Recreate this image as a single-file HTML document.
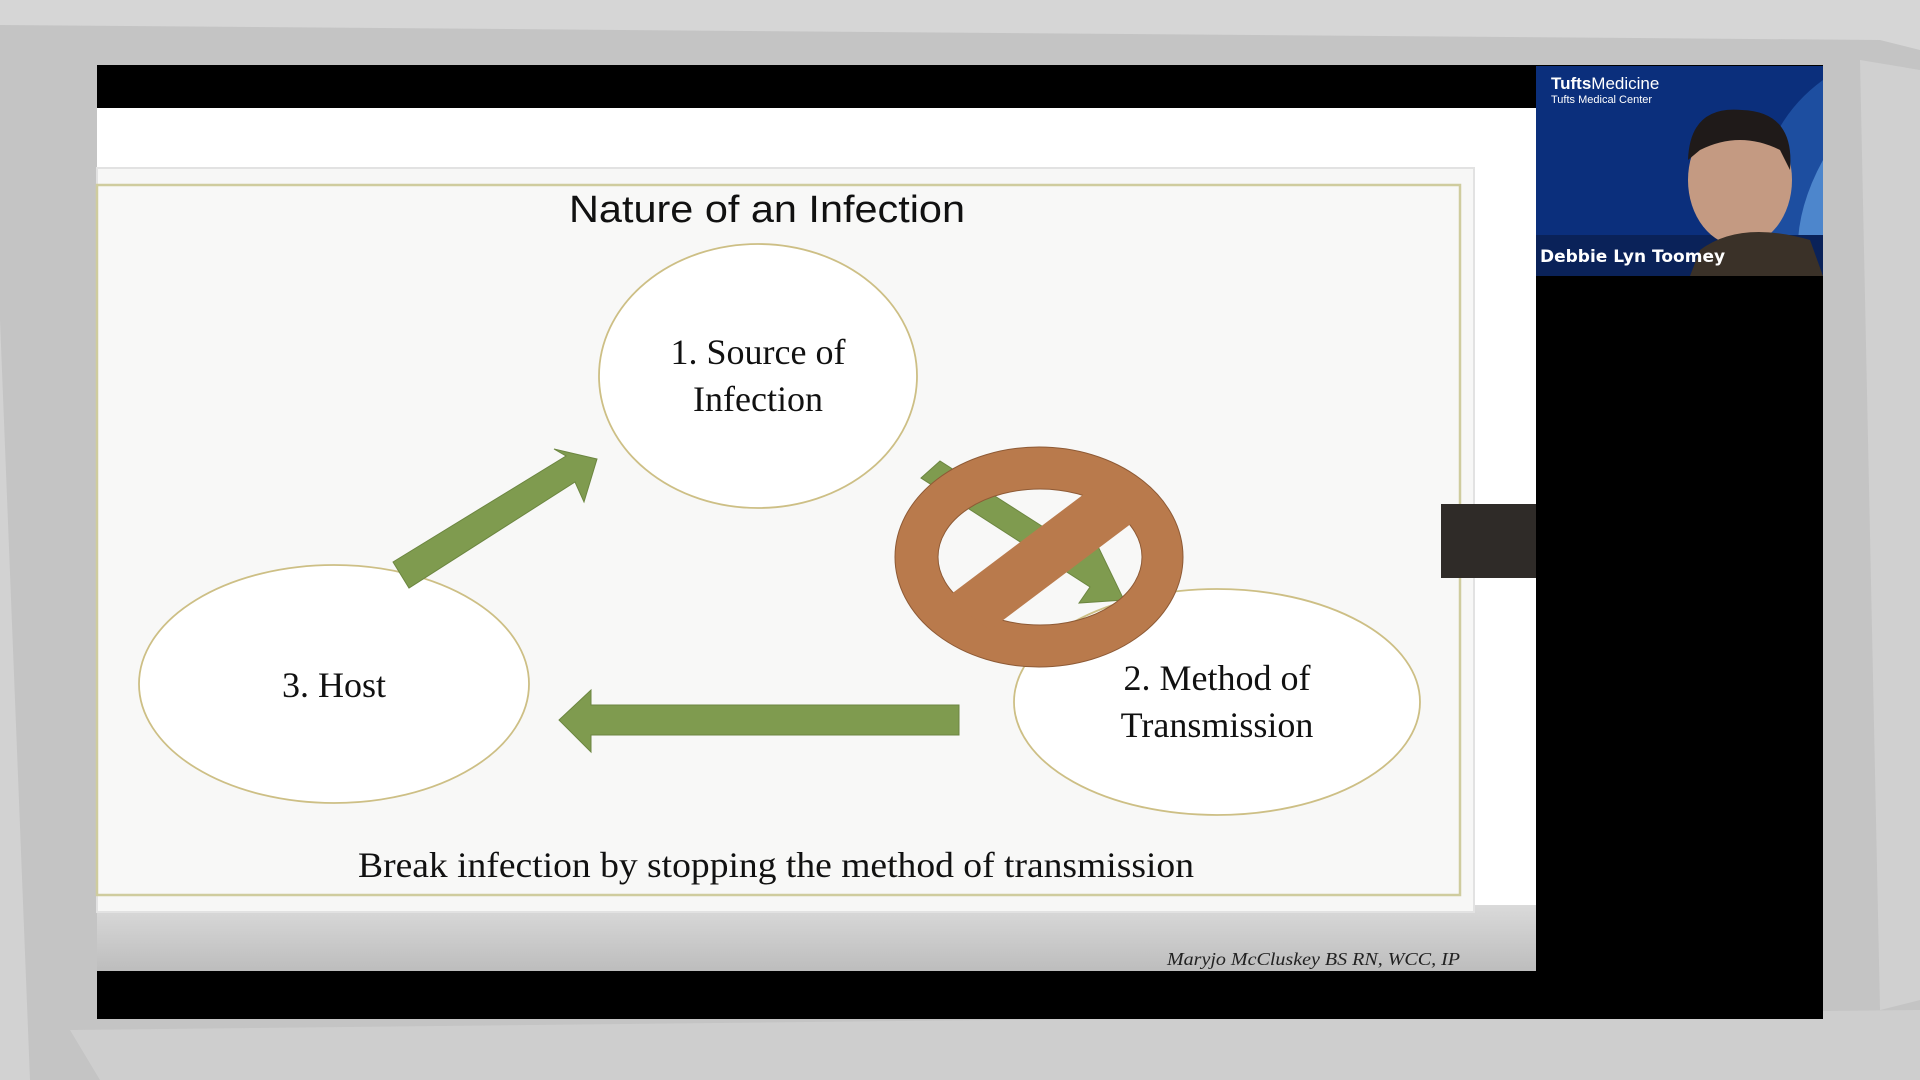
<!DOCTYPE html>
<html><head><meta charset="utf-8"><style>
html,body{margin:0;padding:0;width:1920px;height:1080px;overflow:hidden;background:#c4c4c4}
svg{display:block}
</style></head><body>
<svg width="1920" height="1080" viewBox="0 0 1920 1080" xmlns="http://www.w3.org/2000/svg">
<rect width="1920" height="1080" fill="#c4c4c4"/>
<path d="M0 0 L1920 0 L1920 50 L1880 40 L0 25 Z" fill="#d6d6d6"/>
<path d="M0 320 L30 1080 L0 1080 Z" fill="#d2d2d2"/>
<path d="M1860 60 L1920 70 L1920 1000 L1880 1010 Z" fill="#d0d0d0"/>
<path d="M70 1030 L1920 1010 L1920 1080 L100 1080 Z" fill="#cecece"/>
<rect x="97" y="65" width="1726" height="954" fill="#000"/>
<rect x="97" y="108" width="1439" height="863" fill="#fff"/>
<defs><linearGradient id="g" x1="0" y1="0" x2="0" y2="1"><stop offset="0" stop-color="#dadada"/><stop offset="1" stop-color="#bdbdbd"/></linearGradient></defs>
<rect x="97" y="905" width="1439" height="66" fill="url(#g)"/>
<rect x="97" y="168" width="1377" height="744" fill="#f7f7f6" stroke="#e2e2e2" stroke-width="2"/>
<rect x="97" y="185" width="1363" height="710" fill="#f8f8f7" stroke="#cfcc9e" stroke-width="2.5"/>
<text x="569" y="222" textLength="396" lengthAdjust="spacingAndGlyphs" font-family="Liberation Sans, sans-serif" font-size="38" fill="#111">Nature of an Infection</text>
<ellipse cx="758" cy="376" rx="159" ry="132" fill="#fff" stroke="#cdbf85" stroke-width="1.8"/>
<ellipse cx="334" cy="684" rx="195" ry="119" fill="#fff" stroke="#cdbf85" stroke-width="1.8"/>
<ellipse cx="1217" cy="702" rx="203" ry="113" fill="#fff" stroke="#cdbf85" stroke-width="1.8"/>
<g font-family="Liberation Serif, serif" font-size="36" fill="#111" text-anchor="middle">
<text x="758" y="364">1. Source of</text>
<text x="758" y="411">Infection</text>
<text x="334" y="697">3. Host</text>
<text x="1217" y="690">2. Method of</text>
<text x="1217" y="737">Transmission</text>
</g>
<polygon points="393,562 409,588 575,482 584,502 597,459 554,449 566,456" fill="#7f9b4f" stroke="#6c8640" stroke-width="1"/>
<polygon points="959,705 959,735 591,735 591,752 559,720 591,690 591,705" fill="#7f9b4f" stroke="#6c8640" stroke-width="1"/>
<polygon points="921,478 940,461 1084,553 1093,536 1124,600 1079,603 1090,587" fill="#7f9b4f" stroke="#6c8640" stroke-width="1"/>
<path fill-rule="evenodd" fill="#b97a4c" stroke="#8e5a35" stroke-width="1" d="M895,557 a144,110 0 1,0 288,0 a144,110 0 1,0 -288,0 Z M938,557 a102,68 0 1,0 204,0 a102,68 0 1,0 -204,0 Z"/>
<polygon points="1092,488 1136,520 990,630 946,598" fill="#b97a4c"/>
<text x="358" y="877" textLength="836" lengthAdjust="spacingAndGlyphs" font-family="Liberation Serif, serif" font-size="36" fill="#111">Break infection by stopping the method of  transmission</text>
<text x="1167" y="965" textLength="293" lengthAdjust="spacingAndGlyphs" font-family="Liberation Serif, serif" font-style="italic" font-size="18" fill="#222">Maryjo McCluskey BS RN, WCC, IP</text>
<rect x="1441" y="504" width="95" height="74" fill="#2f2b28"/>
<rect x="1536" y="66" width="287" height="210" fill="#0b2f7c"/>
<path d="M1823 80 Q1740 140 1760 276 L1823 276 Z" fill="#1d4ea0"/>
<path d="M1823 160 Q1790 220 1800 276 L1823 276 Z" fill="#4d86cc"/>
<rect x="1536" y="235" width="287" height="41" fill="#0a2259"/>
<ellipse cx="1740" cy="180" rx="52" ry="66" fill="#c49a82"/>
<path d="M1688 160 Q1690 105 1742 110 Q1795 112 1790 170 L1780 150 Q1740 130 1700 150 Z" fill="#1f1a19"/>
<path d="M1700 250 Q1740 220 1810 240 L1823 276 L1690 276 Z" fill="#3a3128"/>
<text x="1551" y="89" font-family="Liberation Sans, sans-serif" font-size="17" font-weight="bold" fill="#fff">Tufts<tspan font-weight="normal">Medicine</tspan></text>
<text x="1551" y="103" font-family="Liberation Sans, sans-serif" font-size="11" fill="#fff">Tufts Medical Center</text>
<text x="1540" y="262" font-family="DejaVu Sans, sans-serif" font-size="17" font-weight="bold" fill="#fff">Debbie Lyn Toomey</text>
</svg>
</body></html>
